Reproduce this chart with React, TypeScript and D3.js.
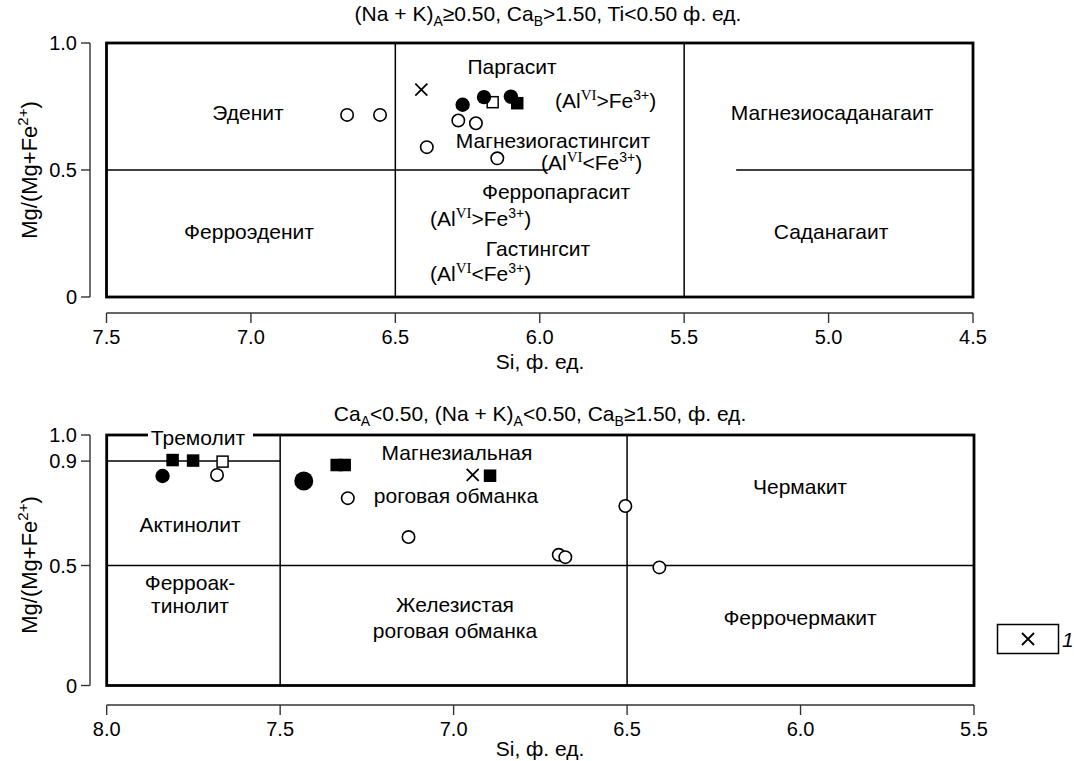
import React from 'react';
import * as d3 from 'd3';

// ---------- DATA ----------
const topTicksX = [7.5, 7.0, 6.5, 6.0, 5.5, 5.0, 4.5];
const topTicksY = [0, 0.5, 1.0];
const botTicksX = [8.0, 7.5, 7.0, 6.5, 6.0, 5.5];
const botTicksY = [0, 0.5, 0.9, 1.0];

// [Si, Mg/(Mg+Fe2+)]
const topOpenCircles = [[6.667, 0.717], [6.553, 0.717], [6.282, 0.695], [6.221, 0.684], [6.391, 0.59], [6.147, 0.546]];
const topFilledCircles = [[6.267, 0.757], [6.193, 0.787], [6.10, 0.789]];
const topOpenSquares = [[6.163, 0.767]];
const topFilledSquares = [[6.078, 0.763]];
const topCrosses = [[6.41, 0.816]];

const botOpenCircles = [[7.682, 0.847], [7.305, 0.758], [7.13, 0.609], [6.697, 0.541], [6.678, 0.532], [6.505, 0.728], [6.407, 0.492]];
const botFilledCircles = [[7.839, 0.843]];
const botLargeFilledCircles = [[7.432, 0.824]];
const botFilledSquares = [[7.81, 0.904], [7.751, 0.902], [7.337, 0.885], [7.314, 0.885], [6.895, 0.844]];
const botOpenSquares = [[7.666, 0.898]];
const botCrosses = [[6.945, 0.847]];

// field boundaries
const topVerticals = [6.5, 5.5];
const topHorizSegments = [[7.5, 5.97, 0.5], [5.32, 4.5, 0.5]];
const botVerticals = [7.5, 6.5];
const botHorizSegments = [[8.0, 5.5, 0.5], [8.0, 7.5, 0.9]];

const FONT = '"Liberation Sans", Arial, sans-serif';
const LF = 21;

// ---------- SCALES ----------
const xTop = d3.scaleLinear().domain([7.5, 4.5]).range([106.5, 973]);
const yTop = d3.scaleLinear().domain([0, 1]).range([297, 43]);
const xBot = d3.scaleLinear().domain([8.0, 5.5]).range([106.7, 974]);
const yBot = d3.scaleLinear().domain([0, 0.5, 1]).range([685.5, 565.5, 435]);

type Sc = d3.ScaleLinear<number, number>;

function Markers({ x, y, openC, filledC, bigC, openS, filledS, crosses }: any) {
  const sq = 12.5;
  const cr = 6;
  return (
    <g>
      {filledS.map((d: number[], i: number) => (
        <rect key={'fs' + i} x={x(d[0]) - sq / 2} y={y(d[1]) - sq / 2} width={sq} height={sq} fill="#000" />
      ))}
      {openS.map((d: number[], i: number) => (
        <rect key={'os' + i} x={x(d[0]) - sq / 2 + 0.75} y={y(d[1]) - sq / 2 + 0.75} width={sq - 1.5} height={sq - 1.5} fill="#fff" stroke="#000" strokeWidth={1.5} />
      ))}
      {openC.map((d: number[], i: number) => (
        <circle key={'oc' + i} cx={x(d[0])} cy={y(d[1])} r={6.2} fill="#fff" stroke="#000" strokeWidth={1.6} />
      ))}
      {filledC.map((d: number[], i: number) => (
        <circle key={'fc' + i} cx={x(d[0])} cy={y(d[1])} r={7.2} fill="#000" />
      ))}
      {bigC.map((d: number[], i: number) => (
        <circle key={'bc' + i} cx={x(d[0])} cy={y(d[1])} r={9.5} fill="#000" />
      ))}
      {crosses.map((d: number[], i: number) => {
        const cx = x(d[0]);
        const cy = y(d[1]);
        return (
          <path key={'x' + i} d={`M${cx - cr},${cy - cr}L${cx + cr},${cy + cr}M${cx - cr},${cy + cr}L${cx + cr},${cy - cr}`} stroke="#000" strokeWidth={1.8} />
        );
      })}
    </g>
  );
}

function Axes({ x, y, ticksX, ticksY, axisY, axisX, fmtY }: { x: Sc; y: Sc; ticksX: number[]; ticksY: number[]; axisY: number; axisX: number; fmtY: (v: number) => string }) {
  const [x0, x1] = x.range();
  const y0 = y(0);
  const y1 = y(1);
  return (
    <g stroke="#333" strokeWidth={1.4} fill="none">
      <line x1={x0} x2={x1} y1={axisY} y2={axisY} />
      {ticksX.map((t) => (
        <g key={'tx' + t}>
          <line x1={x(t)} x2={x(t)} y1={axisY} y2={axisY + 10} />
          <text x={x(t)} y={axisY + 31} textAnchor="middle" fontSize={20} fill="#000" stroke="none" fontFamily={FONT}>
            {d3.format('.1f')(t)}
          </text>
        </g>
      ))}
      <line x1={axisX} x2={axisX} y1={y0} y2={y1} />
      {ticksY.map((t) => (
        <g key={'ty' + t}>
          <line x1={axisX - 9} x2={axisX} y1={y(t)} y2={y(t)} />
          <text x={axisX - 13} y={y(t) + 7} textAnchor="end" fontSize={20} fill="#000" stroke="none" fontFamily={FONT}>
            {fmtY(t)}
          </text>
        </g>
      ))}
    </g>
  );
}

function AlLabel({ x, y, op }: { x: number; y: number; op: string }) {
  return (
    <text x={x} y={y} fontSize={LF} fontFamily={FONT}>
      (Al
      <tspan fontFamily='"Liberation Serif", "Times New Roman", serif' fontSize={15} dy={-8}>VI</tspan>
      <tspan dy={8}>{op}Fe</tspan>
      <tspan fontSize={14} dy={-8}>3+</tspan>
      <tspan dy={8}>)</tspan>
    </text>
  );
}

function YLabel({ cx, cy }: { cx: number; cy: number }) {
  return (
    <text transform={`translate(${cx},${cy}) rotate(-90)`} textAnchor="middle" fontSize={22} fontFamily={FONT}>
      Mg/(Mg+Fe
      <tspan fontSize={15} dy={-9}>2+</tspan>
      <tspan dy={9}>)</tspan>
    </text>
  );
}

function Lbl({ x, y, t, anchor = 'middle', italic = false }: { x: number; y: number; t: string; anchor?: string; italic?: boolean }) {
  return (
    <text x={x} y={y} textAnchor={anchor as any} fontSize={LF} fontFamily={FONT} fontStyle={italic ? 'italic' : 'normal'}>
      {t}
    </text>
  );
}

export default function App() {
  const fmtTop = (v: number) => (v === 0 ? '0' : d3.format('.1f')(v));
  return (
    <svg width={1074} height={761} style={{ position: 'absolute', left: 0, top: 0, background: '#fff' }}>
      {/* ---------- TOP CHART ---------- */}
      <text x={548} y={21} textAnchor="middle" fontSize={LF} fontFamily={FONT}>
        (Na + K)
        <tspan fontSize={14} dy={5}>A</tspan>
        <tspan dy={-5}>≥0.50, Ca</tspan>
        <tspan fontSize={14} dy={5}>B</tspan>
        <tspan dy={-5}>&gt;1.50, Ti&lt;0.50 ф. ед.</tspan>
      </text>
      <g stroke="#000" strokeWidth={1.5}>
        {topVerticals.map((v) => (
          <line key={'tv' + v} x1={xTop(v)} x2={xTop(v)} y1={yTop(0)} y2={yTop(1)} />
        ))}
        {topHorizSegments.map((s, i) => (
          <line key={'th' + i} x1={xTop(s[0])} x2={xTop(s[1])} y1={yTop(s[2])} y2={yTop(s[2])} />
        ))}
      </g>
      <rect x={xTop(7.5)} y={yTop(1)} width={xTop(4.5) - xTop(7.5)} height={yTop(0) - yTop(1)} fill="none" stroke="#000" strokeWidth={2.8} />
      <Lbl x={248} y={120} t="Эденит" />
      <Lbl x={512} y={74} t="Паргасит" />
      <AlLabel x={555} y={108} op=">" />
      <Lbl x={553} y={148} t="Магнезиогастингсит" />
      <AlLabel x={541} y={170} op="<" />
      <Lbl x={832} y={120} t="Магнезиосаданагаит" />
      <Lbl x={556} y={199} t="Ферропаргасит" />
      <AlLabel x={430} y={226} op=">" />
      <Lbl x={538} y={256} t="Гастингсит" />
      <AlLabel x={430} y={281} op="<" />
      <Lbl x={249} y={239} t="Ферроэденит" />
      <Lbl x={831} y={239} t="Саданагаит" />
      <Markers x={xTop} y={yTop} openC={topOpenCircles} filledC={topFilledCircles} bigC={[]} openS={topOpenSquares} filledS={topFilledSquares} crosses={topCrosses} />
      <Axes x={xTop} y={yTop} ticksX={topTicksX} ticksY={topTicksY} axisY={313} axisX={90} fmtY={fmtTop} />
      <Lbl x={540} y={369} t="Si, ф. ед." />
      <YLabel cx={37} cy={170} />

      {/* ---------- BOTTOM CHART ---------- */}
      <text x={540} y={421} textAnchor="middle" fontSize={LF} fontFamily={FONT}>
        Ca
        <tspan fontSize={14} dy={5}>A</tspan>
        <tspan dy={-5}>&lt;0.50, (Na + K)</tspan>
        <tspan fontSize={14} dy={5}>A</tspan>
        <tspan dy={-5}>&lt;0.50, Ca</tspan>
        <tspan fontSize={14} dy={5}>B</tspan>
        <tspan dy={-5}>≥1.50, ф. ед.</tspan>
      </text>
      <g stroke="#000" strokeWidth={1.5}>
        {botVerticals.map((v) => (
          <line key={'bv' + v} x1={xBot(v)} x2={xBot(v)} y1={yBot(0)} y2={yBot(1)} />
        ))}
        {botHorizSegments.map((s, i) => (
          <line key={'bh' + i} x1={xBot(s[0])} x2={xBot(s[1])} y1={yBot(s[2])} y2={yBot(s[2])} />
        ))}
      </g>
      <rect x={xBot(8.0)} y={yBot(1)} width={xBot(5.5) - xBot(8.0)} height={yBot(0) - yBot(1)} fill="none" stroke="#000" strokeWidth={2.8} />
      <rect x={148} y={426} width={105} height={20} fill="#fff" />
      <Lbl x={198} y={445} t="Тремолит" />
      <Lbl x={457} y={460} t="Магнезиальная" />
      <Lbl x={456} y={503} t="роговая обманка" />
      <Lbl x={800} y={494} t="Чермакит" />
      <Lbl x={190} y={532} t="Актинолит" />
      <Lbl x={190} y={590} t="Ферроак-" />
      <Lbl x={190} y={613} t="тинолит" />
      <Lbl x={455} y={612} t="Железистая" />
      <Lbl x={455} y={638} t="роговая обманка" />
      <Lbl x={800} y={625} t="Феррочермакит" />
      <Markers x={xBot} y={yBot} openC={botOpenCircles} filledC={botFilledCircles} bigC={botLargeFilledCircles} openS={botOpenSquares} filledS={botFilledSquares} crosses={botCrosses} />
      <Axes x={xBot} y={yBot} ticksX={botTicksX} ticksY={botTicksY} axisY={705} axisX={90} fmtY={fmtTop} />
      <Lbl x={540} y={756} t="Si, ф. ед." />
      <YLabel cx={37} cy={565} />

      {/* legend */}
      <rect x={997.5} y={624.5} width={61} height={29} fill="none" stroke="#000" strokeWidth={1.5} />
      <path d="M1022,633L1034,645M1022,645L1034,633" stroke="#000" strokeWidth={1.8} />
      <Lbl x={1062} y={647} t="1" anchor="start" italic />
    </svg>
  );
}
